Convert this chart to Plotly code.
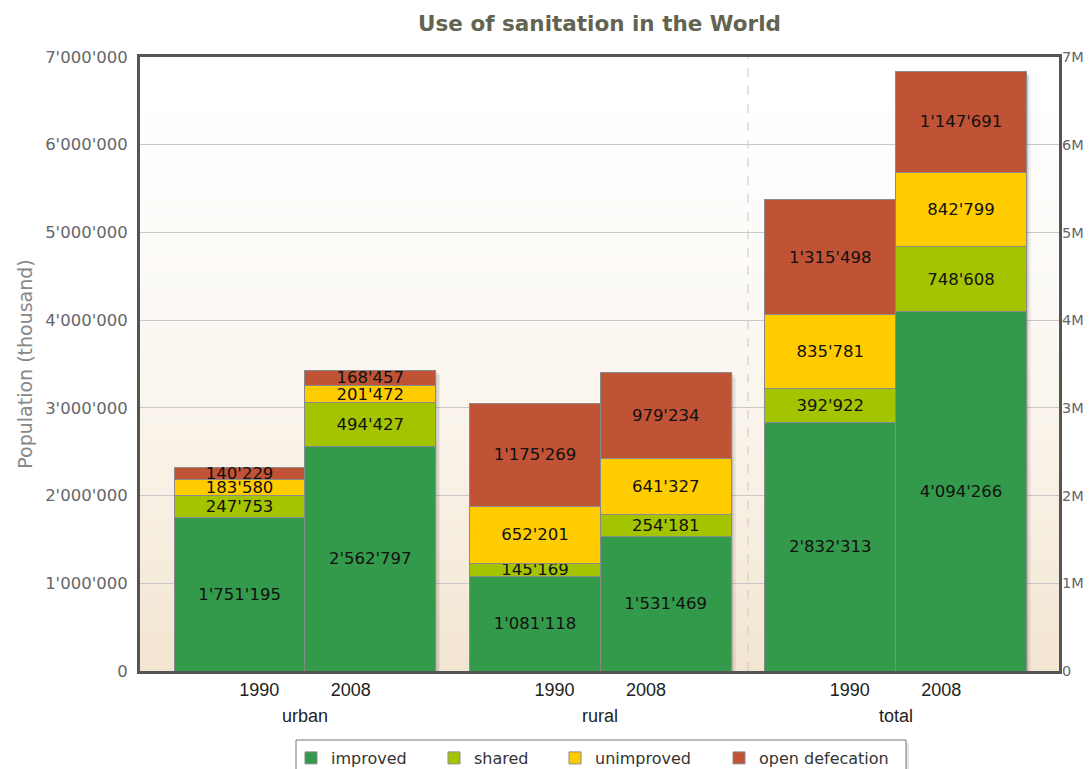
import plotly.graph_objects as go

# ---- data ----
groups = ["urban", "rural", "total"]
years = ["1990", "2008"]
series_names = ["improved", "shared", "unimproved", "open defecation"]
improved = [1751195, 2562797, 1081118, 1531469, 2832313, 4094266]
shared = [247753, 494427, 145169, 254181, 392922, 748608]
unimproved = [183580, 201472, 652201, 641327, 835781, 842799]
open_defecation = [140229, 168457, 1175269, 979234, 1315498, 1147691]
series_values = [improved, shared, unimproved, open_defecation]
colors = ["#33994b", "#a5c400", "#ffcc00", "#c05235"]

# ---- layout helpers (positions in bar-width units) ----
W, H = 1084, 761
ML, MR, MT, MB = 132, 33, 49, 98
plot_w = W - ML - MR
plot_h = H - MT - MB
first_center = 1.262
group_step = 2.259
x_max = 7.03
y_max = 7000000
px_x = x_max / plot_w          # data units per pixel (x)
px_y = y_max / plot_h          # data units per pixel (y)

centers = [first_center + i * group_step for i in range(len(groups))]
bar_x = []
for c in centers:
    bar_x += [c - 0.5, c + 0.5]
tick_x, tick_text = [], []
for c in centers:
    tick_x += [c - 0.35, c + 0.35]
    tick_text += years

totals = [sum(v[i] for v in series_values) for i in range(len(bar_x))]

fig = go.Figure()

# soft drop shadow behind bars (derived from the totals)
for off, alpha in [(4.5, 0.05), (3.0, 0.07), (1.5, 0.09)]:
    fig.add_trace(go.Bar(
        x=[v + off * px_x for v in bar_x], y=totals, base=-off * px_y, width=1.0,
        marker=dict(color="rgba(0,0,0,%.2f)" % alpha, line=dict(width=0)),
        showlegend=False, hoverinfo="skip",
    ))

legend_ids = ["legend", "legend2", "legend3", "legend4"]
for name, vals, col, lg in zip(series_names, series_values, colors, legend_ids):
    fig.add_trace(go.Bar(
        x=bar_x, y=vals, name=name, width=1.0, legend=lg,
        marker=dict(color=col, line=dict(color="#8a8a8a", width=1)),
        texttemplate="%{y:,d}", textposition="inside", insidetextanchor="middle",
        textangle=0,
        textfont=dict(family="DejaVu Sans", size=16.5, color="#111111"),
        hoverinfo="skip",
    ))

# invisible trace so the right-hand axis is drawn
fig.add_trace(go.Scatter(x=bar_x, y=totals, yaxis="y2", mode="none",
                         showlegend=False, hoverinfo="skip"))

# gradient background
n = 60
top = (255, 255, 255)
bot = (242, 229, 208)
shapes = []
for i in range(n):
    t = 1 - (i + 0.5) / n  # 1 at bottom, 0 at top
    f = t ** 1.6
    c = tuple(int(round(top[k] + (bot[k] - top[k]) * f)) for k in range(3))
    shapes.append(dict(type="rect", xref="x domain", yref="y domain",
                       x0=0, x1=1, y0=i / n, y1=(i + 1) / n + 0.002,
                       fillcolor="rgb(%d,%d,%d)" % c, line=dict(width=0), layer="below"))

# dashed divider between rural and total
div_x = (bar_x[3] + 0.5 + bar_x[4] - 0.5) / 2
shapes.append(dict(type="line", xref="x", yref="y domain", x0=div_x, x1=div_x, y0=0, y1=1,
                   line=dict(color="#c8c8c8", width=1, dash="dash"), layer="below"))

# legend box (shadow + frame)
box_l, box_r, box_t, box_b = 288, 898, 732, 770
def px2paper_x(p):
    return (p - ML) / plot_w
def px2paper_y(p):
    return (H - MB - p) / plot_h
shapes.append(dict(type="rect", xref="paper", yref="paper",
                   x0=px2paper_x(box_l + 3), x1=px2paper_x(box_r + 3),
                   y0=px2paper_y(box_b + 3), y1=px2paper_y(box_t + 3),
                   fillcolor="rgba(0,0,0,0.10)", line=dict(width=0), layer="above"))
shapes.append(dict(type="rect", xref="paper", yref="paper",
                   x0=px2paper_x(box_l), x1=px2paper_x(box_r),
                   y0=px2paper_y(box_b), y1=px2paper_y(box_t),
                   fillcolor="white", line=dict(color="#777777", width=1), layer="above"))

annotations = []
for g, c in zip(groups, centers):
    annotations.append(dict(x=c, y=0, xref="x", yref="paper", text=g, showarrow=False,
                            yanchor="middle", yshift=-45,
                            font=dict(family="Liberation Sans, Arial", size=18, color="#222222")))

tickfont = dict(family="DejaVu Sans", size=16.5, color="#666666")

# legend entries, one per series, positioned along the box
symbol_centers = [303, 446, 567, 731]
legend_layouts = {}
for lg, sc in zip(legend_ids, symbol_centers):
    legend_layouts[lg] = dict(
        orientation="h", x=px2paper_x(sc - 20), xanchor="left",
        y=px2paper_y(box_t + 1), yanchor="top", bgcolor="rgba(0,0,0,0)",
        borderwidth=0, font=dict(family="DejaVu Sans", size=16, color="#333333"))

fig.update_layout(
    width=W, height=H,
    margin=dict(l=ML, r=MR, t=MT, b=MB, autoexpand=False),
    barmode="stack",
    separators=".'",
    paper_bgcolor="white",
    plot_bgcolor="white",
    title=dict(text="<b>Use of sanitation in the World</b>", x=0.5, xref="paper",
               y=1 - 15 / H, yref="container", yanchor="middle",
               font=dict(family="DejaVu Sans", size=21.5, color="#62644f")),
    xaxis=dict(range=[0, x_max], tickvals=tick_x, ticktext=tick_text, showgrid=False,
               zeroline=False, showline=True, linecolor="#555555", linewidth=3, mirror=True,
               ticks="", tickfont=dict(family="Liberation Sans, Arial", size=18, color="#222222")),
    yaxis=dict(range=[0, y_max], dtick=1000000, tickformat=",d", showgrid=True,
               gridcolor="#c8c8c8", gridwidth=1, zeroline=False, showline=True,
               linecolor="#555555", linewidth=3, mirror=True, ticks="",
               tickfont=tickfont, ticklabelstandoff=6,
               title=dict(text="Population (thousand)", standoff=8,
                          font=dict(family="DejaVu Sans", size=19, color="#888888"))),
    yaxis2=dict(range=[0, y_max], dtick=1000000, tickformat="~s", overlaying="y",
                side="right", showgrid=False, zeroline=False, showline=False, ticks="",
                tickfont=dict(family="DejaVu Sans", size=14.5, color="#666666"),
                ticklabelstandoff=2),
    uniformtext=dict(minsize=16.5, mode="show"),
    shapes=shapes,
    annotations=annotations,
    showlegend=True,
    **legend_layouts,
)

fig.write_html("out.html")
